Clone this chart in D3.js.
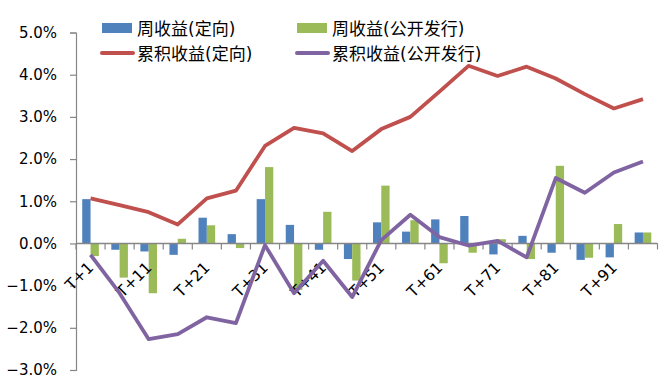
<!DOCTYPE html>
<html><head><meta charset="utf-8">
<script src="https://cdn.jsdelivr.net/npm/d3@7"></script>
<style>body{margin:0;background:#fff;} svg{display:block;}</style>
</head><body>
<svg id="c" width="666" height="387"></svg>
<script>
const categories = ["T+1","T+6","T+11","T+16","T+21","T+26","T+31","T+36","T+41","T+46","T+51","T+56","T+61","T+66","T+71","T+76","T+81","T+86","T+91","T+96"];
const weeklyDirected = [1.05,-0.15,-0.19,-0.27,0.61,0.22,1.05,0.44,-0.15,-0.37,0.50,0.28,0.57,0.65,-0.26,0.18,-0.22,-0.39,-0.33,0.26];
const weeklyPublic = [-0.30,-0.81,-1.18,0.11,0.43,-0.11,1.81,-1.10,0.75,-0.88,1.37,0.55,-0.47,-0.22,0.10,-0.37,1.84,-0.34,0.46,0.26];
const cumDirected = [1.07,0.91,0.74,0.45,1.07,1.25,2.31,2.74,2.61,2.19,2.71,3.00,3.60,4.21,3.97,4.19,3.91,3.54,3.20,3.42];
const cumPublic = [-0.27,-1.18,-2.27,-2.15,-1.75,-1.89,-0.04,-1.18,-0.41,-1.27,0.08,0.68,0.15,-0.05,0.06,-0.33,1.55,1.20,1.68,1.94];
const yTicks = [-3,-2,-1,0,1,2,3,4,5];
const shownLabels = ["T+1","T+11","T+21","T+31","T+41","T+51","T+61","T+71","T+81","T+91"];
const seriesNames = ["周收益(定向)","周收益(公开发行)","累积收益(定向)","累积收益(公开发行)"];
const colors = {blue:"#4F81BD", green:"#9BBB59", red:"#C0504D", purple:"#8064A2"};

const svg = d3.select("#c");
const font = "'DejaVu Sans', 'Noto Sans CJK SC', sans-serif";
const x = d3.scaleBand().domain(categories).range([76, 657.5]).padding(0);
const y = d3.scaleLinear().domain([-3,5]).range([370, 32.5]);
const bw = x.bandwidth()/3.5;
const axisColor = "#868686";

// bars
const g = svg.append("g");
g.selectAll("rect.b").data(weeklyDirected).join("rect")
  .attr("x",(d,i)=>x(categories[i])+x.bandwidth()/2-bw)
  .attr("y",d=>y(Math.max(0,d))).attr("width",bw)
  .attr("height",d=>Math.abs(y(d)-y(0))).attr("fill",colors.blue);
g.selectAll("rect.g").data(weeklyPublic).join("rect")
  .attr("x",(d,i)=>x(categories[i])+x.bandwidth()/2)
  .attr("y",d=>y(Math.max(0,d))).attr("width",bw)
  .attr("height",d=>Math.abs(y(d)-y(0))).attr("fill",colors.green);

// y axis
const yAxis = d3.axisLeft(y).tickValues(yTicks).tickSize(6).tickFormat(d=>d3.format(".1f")(d)+"%");
const ya = svg.append("g").attr("transform","translate(76,0)").call(yAxis);
ya.select(".domain").attr("stroke",axisColor).attr("stroke-width",1.2);
ya.selectAll(".tick line").attr("stroke",axisColor).attr("stroke-width",1.2);
ya.selectAll(".tick text").attr("x",-19).attr("font-family",font).attr("font-size",15).attr("fill","#000");

// x axis at zero
const xa = svg.append("g").attr("transform",`translate(0,${y(0)})`);
xa.append("line").attr("x1",76).attr("x2",657.5).attr("stroke",axisColor).attr("stroke-width",1.5);
const bounds = categories.map(c=>x(c)).concat([x.range()[1]]);
xa.selectAll("line.t").data(bounds).join("line").attr("class","t")
  .attr("x1",d=>d).attr("x2",d=>d).attr("y1",0).attr("y2",6)
  .attr("stroke",axisColor).attr("stroke-width",1.2);
xa.selectAll("text").data(shownLabels).join("text")
  .attr("transform",d=>`translate(${x(d)+x.bandwidth()/2+4},${25}) rotate(-45)`)
  .attr("text-anchor","end").attr("font-family",font).attr("font-size",15.5).attr("fill","#000")
  .text(d=>d);

// lines
const line = d3.line().x((d,i)=>x(categories[i])+x.bandwidth()/2).y(d=>y(d));
svg.append("path").datum(cumDirected).attr("d",line).attr("fill","none")
  .attr("stroke",colors.red).attr("stroke-width",3.8).attr("stroke-linejoin","round");
svg.append("path").datum(cumPublic).attr("d",line).attr("fill","none")
  .attr("stroke",colors.purple).attr("stroke-width",3.8).attr("stroke-linejoin","round");

// legend
const leg = [
  {name:seriesNames[0], type:"rect", color:colors.blue, x:102, y:28},
  {name:seriesNames[1], type:"rect", color:colors.green, x:297, y:28},
  {name:seriesNames[2], type:"line", color:colors.red, x:102, y:53},
  {name:seriesNames[3], type:"line", color:colors.purple, x:297, y:53}
];
const lg = svg.append("g");
leg.forEach(l=>{
  if(l.type==="rect") lg.append("rect").attr("x",l.x).attr("y",l.y-5).attr("width",30).attr("height",10).attr("fill",l.color);
  else lg.append("line").attr("x1",l.x).attr("x2",l.x+31).attr("y1",l.y).attr("y2",l.y).attr("stroke",l.color).attr("stroke-width",4).attr("stroke-linecap","round");
  lg.append("text").attr("x",l.x+35).attr("y",l.y+7).attr("font-family",font).attr("font-size",17).attr("fill","#000").text(l.name);
});
</script>
</body></html>
